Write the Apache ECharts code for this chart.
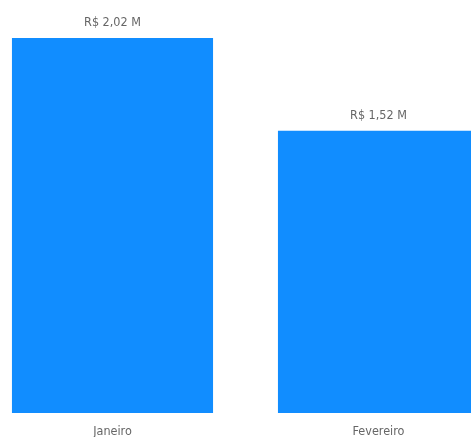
<!DOCTYPE html>
<html>
<head>
<meta charset="utf-8">
<script src="https://cdn.jsdelivr.net/npm/echarts@6/dist/echarts.min.js"></script>
<style>
html,body{margin:0;padding:0;background:#fff;}
#c{width:471px;height:437px;}
</style>
</head>
<body>
<div id="c"></div>
<script>
const categories = ['Janeiro', 'Fevereiro'];
const values = [2.02, 1.52];
const valueLabels = ['R$ 2,02 M', 'R$ 1,52 M'];

const chart = echarts.init(document.getElementById('c'), null, {renderer: 'canvas'});
const font = '"DejaVu Sans Condensed", sans-serif';
chart.setOption({
  animation: false,
  grid: {left: -20.5, right: -40.5, top: 38, bottom: 24, containLabel: false, outerBoundsMode: 'none'},
  xAxis: {
    type: 'category',
    data: categories,
    axisLine: {show: false},
    axisTick: {show: false},
    axisLabel: {color: '#666666', fontSize: 12.5, fontFamily: font, margin: 12}
  },
  yAxis: {
    type: 'value',
    min: 0,
    max: 2.02,
    show: false,
    splitLine: {show: false}
  },
  series: [{
    type: 'bar',
    data: values,
    barCategoryGap: '24.4%',
    itemStyle: {color: '#118DFF'},
    label: {
      show: true,
      position: 'top',
      distance: 9,
      color: '#666666',
      fontSize: 12.5,
      fontFamily: font,
      formatter: p => valueLabels[p.dataIndex]
    }
  }]
});
</script>
</body>
</html>
